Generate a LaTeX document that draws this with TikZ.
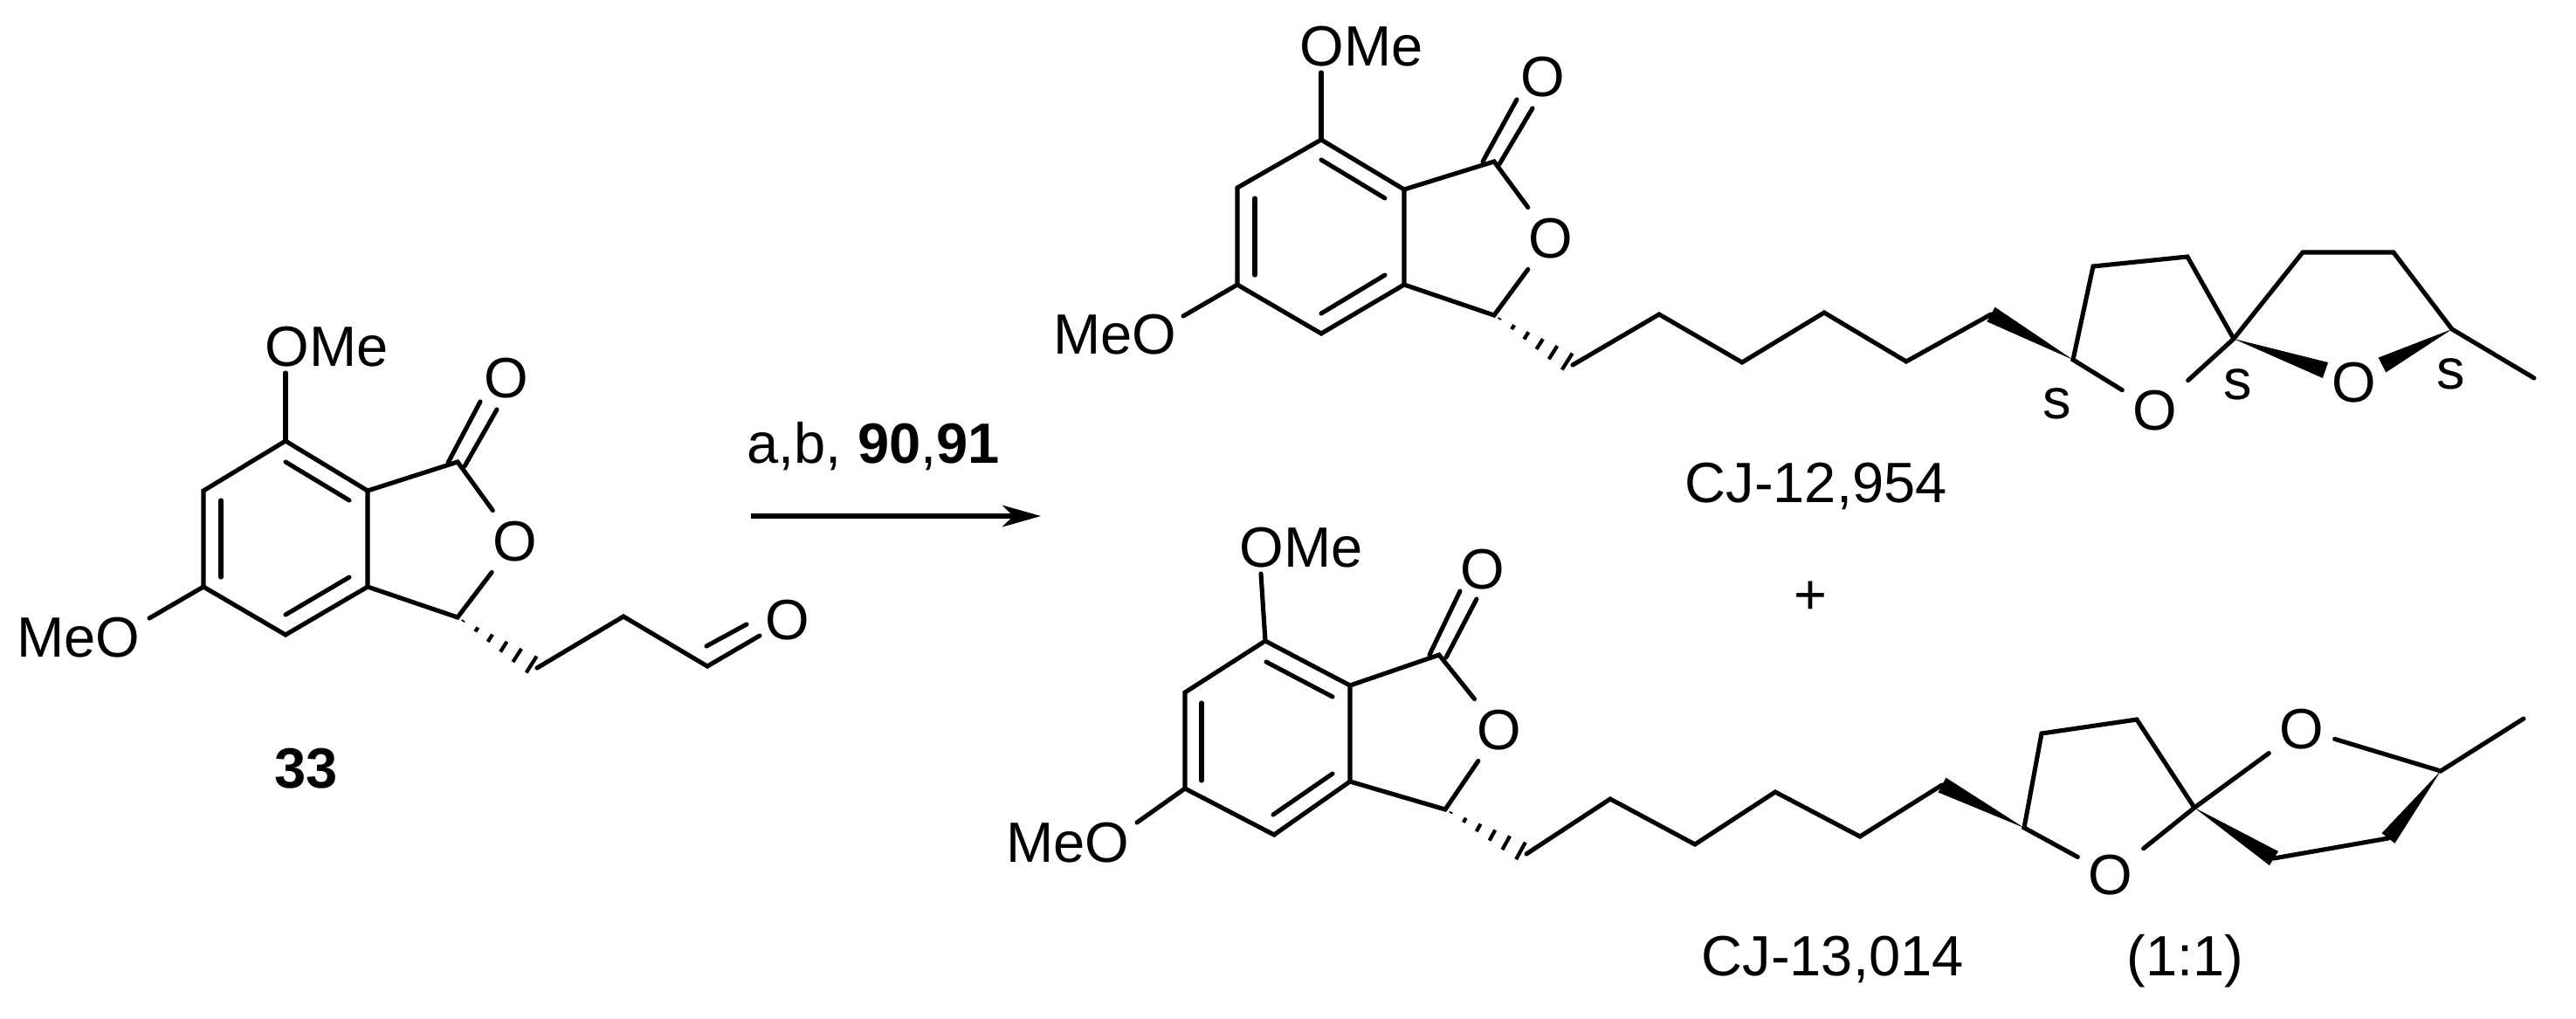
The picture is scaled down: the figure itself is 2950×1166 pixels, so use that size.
\documentclass[tikz,border=0pt]{standalone}
\usepackage{fontspec}
\setmainfont{Liberation Sans}
\usetikzlibrary{calc,arrows.meta}

\newcommand{\wedgebond}[2]{
    \fill ($(#2)!2.7pt!90:(#1)$) -- (#1) -- ($(#2)!2.7pt!-90:(#1)$) -- cycle;
}
\newcommand{\hashbond}[2]{
    \foreach \t [evaluate=\t as \w using 3.4*\t] in {0.07, 0.24, 0.41, 0.58, 0.75, 0.93} {
        \draw[line width=1.2pt, line cap=butt] ($(#1)!\t!(#2)!\w pt!90:(#2)$) -- ($(#1)!\t!(#2)!-\w pt!90:(#2)$);
    }
}

\begin{document}
\begin{tikzpicture}
[x=0.01cm, y=-0.01cm, font=\fontsize{18.5}{20}\selectfont, line width=1.45pt, line cap=round,
atom/.style={inner sep=2.8pt},
caption/.style={inner sep=0pt, anchor=base west}]

\useasboundingbox (0, 0) rectangle (2950, 1166);

\foreach \n/\x/\y in {
    sa/327/505, sb/233/562, sc/233/672, sd/327/727, se/421/672, sf/421/562, sg/524/529, sh/524/707, si/615/765,
    sm/327/427, sn/171/708, sia/327/529, sib/400/573, sic/253/573, sid/253/661, sie/327/704, sif/400/661,
    sca/513/530, scb/550/460, scc/532/534, scd/569/469,
    ua/1513/160, ub/1417/215, uc/1417/326, ud/1513/382, ue/1608/326, uf/1608/217, ug/1711/185, uh/1711/361, ui/1801/418,
    um/1513/83, un/1355/362, uia/1513/183, uib/1586/227, uic/1437/227, uid/1437/315, uie/1513/359, uif/1586/315,
    uca/1698/185, ucb/1737/114, ucc/1717/188, ucd/1755/124,
    la/1449/734, lb/1357/793, lc/1357/903, ld/1459/956, le/1546/895, lf/1546/785, lg/1648/750, lh/1655/927, li/1748/978,
    lm/1444/657, ln/1302/942, lia/1450/758, lib/1526/798, lic/1376/805, lid/1376/894, lie/1458/933, lif/1526/886,
    lca/1637/750, lcb/1672/677, lcc/1656/753, lcd/1691/686%
} {
    \coordinate (\n) at (\x, \y);
}

\node[atom] (sOMe) at (374, 397) {OMe};
\node[atom] (sMeO) at (90, 730) {MeO};
\node[atom] (sO) at (590, 620) {O};
\node[atom] (sX) at (580, 433) {O};
\node[atom] (uOMe) at (1559, 53) {OMe};
\node[atom] (uMeO) at (1277, 383) {MeO};
\node[atom] (uO) at (1776, 273) {O};
\node[atom] (uX) at (1767, 88) {O};
\node[atom] (lOMe) at (1490, 627) {OMe};
\node[atom] (lMeO) at (1223, 965) {MeO};
\node[atom] (lO) at (1717, 836) {O};
\node[atom] (lX) at (1698, 652) {O};

\foreach \p in {s, u, l} {
    \draw (\p a) -- (\p b) -- (\p c) -- (\p d) -- (\p e) -- (\p f) -- (\p a);
    \draw (\p e) -- (\p h) -- (\p O);
    \draw (\p f) -- (\p g) -- (\p O);
    \draw (\p a) -- (\p m);
    \draw (\p c) -- (\p n);
    \draw (\p ia) -- (\p ib);
    \draw (\p ic) -- (\p id);
    \draw (\p ie) -- (\p if);
    \draw (\p ca) -- (\p cb);
    \draw (\p cc) -- (\p cd);
    \hashbond{\p h}{\p i}
}

\coordinate (sk1) at (714, 706);
\coordinate (sk2) at (810, 763);
\coordinate (ska) at (870, 728);
\coordinate (skb) at (809, 740);
\coordinate (skc) at (855, 715);
\node[atom] (sY) at (902, 710) {O};
\draw (si) -- (sk1) -- (sk2) -- (ska);
\draw (skb) -- (skc);
\node[caption, font=\fontsize{18.5}{20}\selectfont\bfseries, anchor=center] (sname) at (351, 880) {33};

\coordinate (rs) at (860, 591);
\coordinate (re) at (1192, 591);
\draw[-{Stealth[length=12.5pt, width=7pt, inset=3.5pt]}, line cap=butt] (rs) -- (re);
\node[caption] (rlabel) at (853, 530) {a,b, \textbf{90},\textbf{91}};

\coordinate (uk1) at (1900, 360);
\coordinate (uk2) at (1995, 415);
\coordinate (uk3) at (2089, 358);
\coordinate (uk4) at (2183, 414);
\coordinate (uk5) at (2280, 360);
\coordinate (ur1) at (2374, 412);
\coordinate (ur2) at (2397, 305);
\coordinate (ur3) at (2505, 294);
\coordinate (ur4) at (2558, 388);
\coordinate (ur5) at (2637, 289);
\coordinate (ur6) at (2741, 289);
\coordinate (ur7) at (2808, 377);
\coordinate (ume) at (2902, 433);
\coordinate (uw1) at (2663, 424);
\coordinate (uw2) at (2728, 418);
\node[atom] (uO1) at (2468, 470) {O};
\node[atom] (uO2) at (2696, 438) {O};
\node[inner sep=0pt] (us1) at (2356, 462) {s};
\node[inner sep=0pt] (us2) at (2563, 440) {s};
\node[inner sep=0pt] (us3) at (2807, 428) {s};
\draw (ui) -- (uk1) -- (uk2) -- (uk3) -- (uk4) -- (uk5);
\wedgebond{ur1}{uk5}
\draw (uO1) -- (ur1) -- (ur2) -- (ur3) -- (ur4) -- (uO1);
\draw (ur4) -- (ur5) -- (ur6) -- (ur7) -- (ume);
\wedgebond{ur4}{uw1}
\wedgebond{ur7}{uw2}
\node[caption] (uname) at (1927, 575) {CJ-12,954};

\node[inner sep=0pt] (plus) at (2073, 685) {+};

\coordinate (lk1) at (1844, 915);
\coordinate (lk2) at (1941, 967);
\coordinate (lk3) at (2033, 907);
\coordinate (lk4) at (2130, 958);
\coordinate (lk5) at (2224, 899);
\coordinate (lr1) at (2318, 948);
\coordinate (lr2) at (2338, 840);
\coordinate (lr3) at (2447, 824);
\coordinate (lr4) at (2513, 925);
\coordinate (lr5) at (2795, 883);
\coordinate (lme) at (2890, 823);
\coordinate (lw1) at (2604, 983);
\coordinate (lw2) at (2735, 960);
\node[atom] (lO1) at (2417, 1002) {O};
\node[atom] (lO2) at (2636, 835) {O};
\draw (li) -- (lk1) -- (lk2) -- (lk3) -- (lk4) -- (lk5);
\wedgebond{lr1}{lk5}
\draw (lO1) -- (lr1) -- (lr2) -- (lr3) -- (lr4) -- (lO1);
\draw (lr4) -- (lO2) -- (lr5) -- (lme);
\draw (lw1) -- (lw2);
\wedgebond{lr4}{lw1}
\wedgebond{lr5}{lw2}
\node[caption] (lname) at (1946, 1117) {CJ-13,014};
\node[caption] (lratio) at (2433, 1117) {(1:1)};

\end{tikzpicture}
\end{document}
